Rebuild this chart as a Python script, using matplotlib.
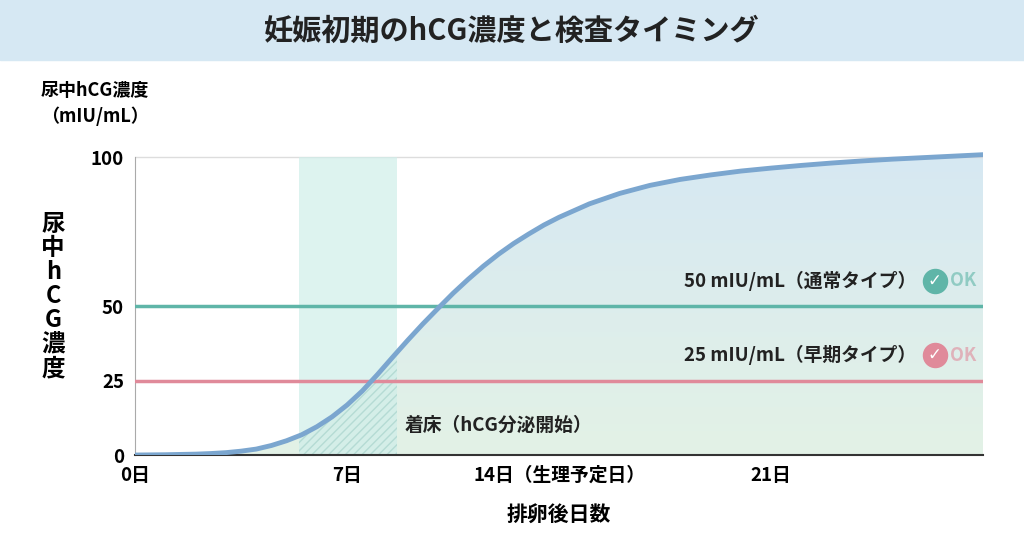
import numpy as np
import matplotlib
matplotlib.use("Agg")
import matplotlib.pyplot as plt
from matplotlib.patches import Rectangle
from matplotlib.colors import LinearSegmentedColormap

plt.rcParams['font.family'] = ['Noto Sans CJK JP', 'DejaVu Sans']

days = [0,0.5,1,1.5,2,2.5,3,3.5,4,4.5,5,5.5,6,6.5,7,7.5,8,8.5,9,9.5,10,10.5,11,11.5,12,12.5,13,13.5,14,
        15,16,17,18,19,20,21,22,23,24,25,26,27,28]
hcg = [0,0.05,0.1,0.2,0.3,0.5,0.8,1.3,2,3.2,4.8,6.8,9.5,12.8,16.8,21.5,27,32.8,38.5,44,49.2,54.3,59,63.4,67.4,71,74.2,77.2,79.8,
       84.3,87.8,90.5,92.5,94,95.3,96.3,97.2,98,98.7,99.3,99.8,100.3,100.8]
xticks = [0, 7, 14, 21]
xticklabels = ['0日', '7日', '14日（生理予定日）', '21日']
yticks = [0, 25, 50, 100]
thresholds = [50, 25]
th_labels = ['50 mIU/mL（通常タイプ）', '25 mIU/mL（早期タイプ）']
th_colors = ['#5fb5a8', '#e08a9a']
band = [5.4, 8.65]

fig = plt.figure(figsize=(10.24, 5.59), dpi=100)
fig.patch.set_facecolor('white')
fig.patches.append(Rectangle((0, 0.893), 1, 0.107, transform=fig.transFigure, color='#d6e8f3', zorder=0))
fig.text(0.5, 0.945, '妊娠初期のhCG濃度と検査タイミング', ha='center', va='center', fontsize=21, fontweight='bold', color='#222')

ax = fig.add_axes([0.132, 0.186, 0.828, 0.549])
ax.set_xlim(0, 28)
ax.set_ylim(0, 103)

x = np.array(days, float); y = np.array(hcg, float)
cmap = LinearSegmentedColormap.from_list('g', ['#e3f2e6', '#d6e8f3'])
grad = np.linspace(0, 1, 256).reshape(-1, 1)
im = ax.imshow(grad, extent=[0, 28, 0, 103], origin='lower', aspect='auto', cmap=cmap, zorder=1)
poly = ax.fill_between(x, 0, y, color='none')
im.set_clip_path(poly.get_paths()[0], transform=ax.transData)

ax.fill_between(band, 0, 100, color='#cfeee9', alpha=0.7, zorder=1.5, lw=0)
h = ax.fill_between(x, 0, y, facecolor='none', edgecolor='#b5dbd4', hatch='////', lw=0, zorder=1.6)
h.set_clip_path(Rectangle((band[0], 0), band[1]-band[0], 103, transform=ax.transData))

ax.axhline(100, color='#dddddd', lw=1, zorder=1.2)
for t, c in zip(thresholds, th_colors):
    ax.axhline(t, color=c, lw=2.5, zorder=3)
ax.plot(x, y, color='#7ba6cf', lw=3.5, zorder=4, solid_capstyle='round', solid_joinstyle='round')

for t, lab, c in zip(thresholds, th_labels, th_colors):
    ax.text(25.8, t + 8.5, lab, ha='right', va='center', fontsize=13.5, fontweight='bold', color='#222', zorder=5)
    ax.scatter([26.4], [t + 8.5], s=300, color=c, zorder=5)
    ax.text(26.4, t + 8.5, '✓', ha='center', va='center', fontsize=12, color='white', fontweight='bold',
            family=['DejaVu Sans'], zorder=6)
    ax.text(26.9, t + 8.5, 'OK', ha='left', va='center', fontsize=13, fontweight='bold', color=c, alpha=0.6, zorder=5)

ax.text(8.9, 10, '着床（hCG分泌開始）', ha='left', va='center', fontsize=13.5, fontweight='bold', color='#222', zorder=5)

ax.set_xticks(xticks)
ax.set_xticklabels(xticklabels, fontsize=13.5, fontweight='bold')
ax.set_yticks(yticks)
ax.set_yticklabels([str(v) for v in yticks], fontsize=13.5, fontweight='bold')
ax.tick_params(length=0, pad=8)
for s in ['top', 'right']:
    ax.spines[s].set_visible(False)
ax.spines['left'].set_color('#aaaaaa')
ax.spines['left'].set_bounds(0, 100)
ax.spines['bottom'].set_color('#333333')
ax.spines['bottom'].set_linewidth(1.5)
ax.set_xlabel('排卵後日数', fontsize=15, fontweight='bold', labelpad=14)

fig.text(0.04, 0.815, '尿中hCG濃度\n（mIU/mL）', ha='left', va='center', fontsize=13, fontweight='bold', linespacing=1.4)
fig.text(0.052, 0.47, '尿\n中\nh\nC\nG\n濃\n度', ha='center', va='center', fontsize=17, fontweight='bold', linespacing=1.0)

fig.savefig('out.png', dpi=100)
